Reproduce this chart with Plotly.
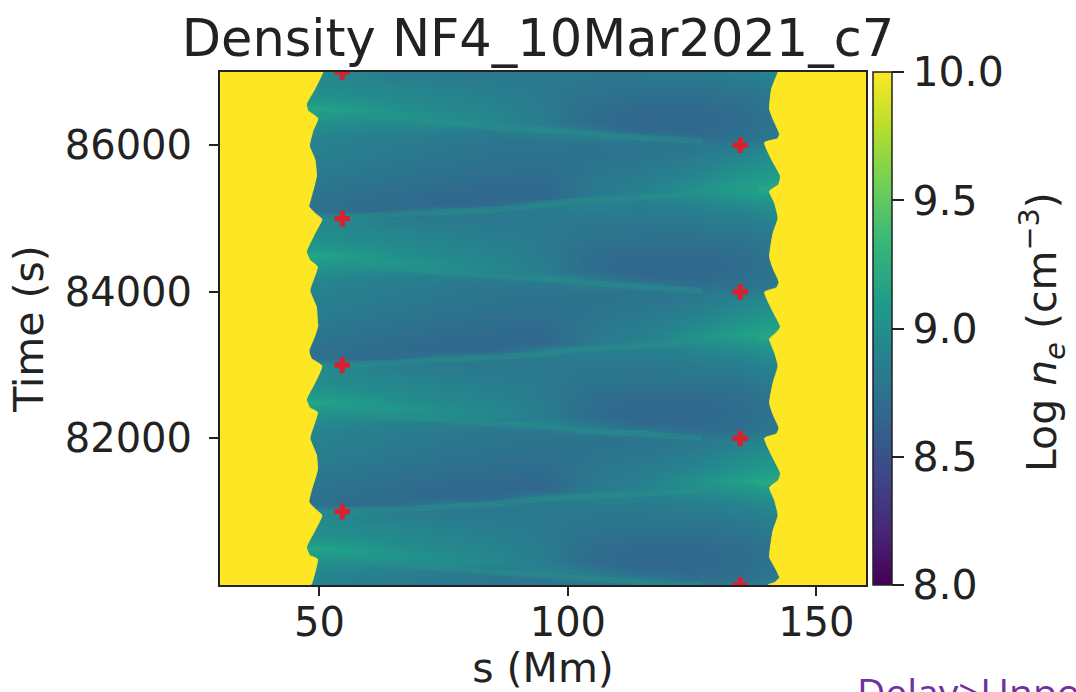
import plotly.graph_objects as go

title = "Density NF4_10Mar2021_c7"
col_s = [45, 55, 65, 75, 85, 95, 105, 115, 125, 135, 145]
row_t = [87000 - 100 * i for i in range(71)]
log_ne = [
 [8.98,8.95,8.84,8.82,8.80,8.80,8.80,8.80,8.82,8.86,8.96],
 [8.96,8.92,8.88,8.84,8.82,8.80,8.79,8.79,8.80,8.82,8.92],
 [8.98,8.95,8.92,8.87,8.84,8.81,8.78,8.77,8.77,8.79,8.88],
 [9.02,8.98,8.94,8.90,8.86,8.82,8.76,8.74,8.74,8.76,8.85],
 [9.08,9.02,8.97,8.92,8.88,8.82,8.73,8.71,8.71,8.74,8.83],
 [9.20,9.12,9.00,8.94,8.90,8.83,8.72,8.68,8.68,8.72,8.82],
 [9.14,9.06,9.06,8.98,8.92,8.84,8.71,8.67,8.67,8.71,8.81],
 [9.02,8.96,8.95,8.98,8.94,8.85,8.70,8.66,8.67,8.71,8.81],
 [8.96,8.92,8.88,8.86,8.84,8.90,8.80,8.68,8.68,8.72,8.82],
 [8.92,8.88,8.85,8.82,8.80,8.80,8.85,8.84,8.72,8.74,8.84],
 [8.90,8.86,8.83,8.80,8.78,8.77,8.76,8.78,8.80,8.82,8.92],
 [8.89,8.85,8.82,8.79,8.77,8.76,8.76,8.78,8.80,8.90,9.00],
 [8.88,8.84,8.81,8.78,8.76,8.75,8.77,8.79,8.84,8.94,9.04],
 [8.86,8.82,8.79,8.76,8.74,8.73,8.78,8.81,8.87,8.98,9.08],
 [8.84,8.80,8.77,8.74,8.72,8.71,8.79,8.83,8.91,9.02,9.12],
 [8.82,8.78,8.75,8.72,8.70,8.69,8.80,8.85,8.95,9.08,9.18],
 [8.80,8.76,8.73,8.70,8.68,8.67,8.81,8.87,9.00,9.15,9.25],
 [8.78,8.74,8.71,8.68,8.67,8.66,8.83,8.90,8.96,9.04,9.14],
 [8.76,8.72,8.70,8.67,8.68,8.86,8.88,8.86,8.90,8.96,9.06],
 [8.76,8.72,8.70,8.84,8.82,8.82,8.84,8.83,8.86,8.90,9.00],
 [8.98,8.95,8.84,8.82,8.80,8.80,8.80,8.80,8.82,8.86,8.96],
 [8.96,8.92,8.88,8.84,8.82,8.80,8.79,8.79,8.80,8.82,8.92],
 [8.98,8.95,8.92,8.87,8.84,8.81,8.78,8.77,8.77,8.79,8.88],
 [9.02,8.98,8.94,8.90,8.86,8.82,8.76,8.74,8.74,8.76,8.85],
 [9.08,9.02,8.97,8.92,8.88,8.82,8.73,8.71,8.71,8.74,8.83],
 [9.20,9.12,9.00,8.94,8.90,8.83,8.72,8.68,8.68,8.72,8.82],
 [9.14,9.06,9.06,8.98,8.92,8.84,8.71,8.67,8.67,8.71,8.81],
 [9.02,8.96,8.95,8.98,8.94,8.85,8.70,8.66,8.67,8.71,8.81],
 [8.96,8.92,8.88,8.86,8.84,8.90,8.80,8.68,8.68,8.72,8.82],
 [8.92,8.88,8.85,8.82,8.80,8.80,8.85,8.84,8.72,8.74,8.84],
 [8.90,8.86,8.83,8.80,8.78,8.77,8.76,8.78,8.80,8.82,8.92],
 [8.89,8.85,8.82,8.79,8.77,8.76,8.76,8.78,8.80,8.90,9.00],
 [8.88,8.84,8.81,8.78,8.76,8.75,8.77,8.79,8.84,8.94,9.04],
 [8.86,8.82,8.79,8.76,8.74,8.73,8.78,8.81,8.87,8.98,9.08],
 [8.84,8.80,8.77,8.74,8.72,8.71,8.79,8.83,8.91,9.02,9.12],
 [8.82,8.78,8.75,8.72,8.70,8.69,8.80,8.85,8.95,9.08,9.18],
 [8.80,8.76,8.73,8.70,8.68,8.67,8.81,8.87,9.00,9.15,9.25],
 [8.78,8.74,8.71,8.68,8.67,8.66,8.83,8.90,8.96,9.04,9.14],
 [8.76,8.72,8.70,8.67,8.68,8.86,8.88,8.86,8.90,8.96,9.06],
 [8.76,8.72,8.70,8.84,8.82,8.82,8.84,8.83,8.86,8.90,9.00],
 [8.98,8.95,8.84,8.82,8.80,8.80,8.80,8.80,8.82,8.86,8.96],
 [8.96,8.92,8.88,8.84,8.82,8.80,8.79,8.79,8.80,8.82,8.92],
 [8.98,8.95,8.92,8.87,8.84,8.81,8.78,8.77,8.77,8.79,8.88],
 [9.02,8.98,8.94,8.90,8.86,8.82,8.76,8.74,8.74,8.76,8.85],
 [9.08,9.02,8.97,8.92,8.88,8.82,8.73,8.71,8.71,8.74,8.83],
 [9.20,9.12,9.00,8.94,8.90,8.83,8.72,8.68,8.68,8.72,8.82],
 [9.14,9.06,9.06,8.98,8.92,8.84,8.71,8.67,8.67,8.71,8.81],
 [9.02,8.96,8.95,8.98,8.94,8.85,8.70,8.66,8.67,8.71,8.81],
 [8.96,8.92,8.88,8.86,8.84,8.90,8.80,8.68,8.68,8.72,8.82],
 [8.92,8.88,8.85,8.82,8.80,8.80,8.85,8.84,8.72,8.74,8.84],
 [8.90,8.86,8.83,8.80,8.78,8.77,8.76,8.78,8.80,8.82,8.92],
 [8.89,8.85,8.82,8.79,8.77,8.76,8.76,8.78,8.80,8.90,9.00],
 [8.88,8.84,8.81,8.78,8.76,8.75,8.77,8.79,8.84,8.94,9.04],
 [8.86,8.82,8.79,8.76,8.74,8.73,8.78,8.81,8.87,8.98,9.08],
 [8.84,8.80,8.77,8.74,8.72,8.71,8.79,8.83,8.91,9.02,9.12],
 [8.82,8.78,8.75,8.72,8.70,8.69,8.80,8.85,8.95,9.08,9.18],
 [8.80,8.76,8.73,8.70,8.68,8.67,8.81,8.87,9.00,9.15,9.25],
 [8.78,8.74,8.71,8.68,8.67,8.66,8.83,8.90,8.96,9.04,9.14],
 [8.76,8.72,8.70,8.67,8.68,8.86,8.88,8.86,8.90,8.96,9.06],
 [8.76,8.72,8.70,8.84,8.82,8.82,8.84,8.83,8.86,8.90,9.00],
 [8.98,8.95,8.84,8.82,8.80,8.80,8.80,8.80,8.82,8.86,8.96],
 [8.96,8.92,8.88,8.84,8.82,8.80,8.79,8.79,8.80,8.82,8.92],
 [8.98,8.95,8.92,8.87,8.84,8.81,8.78,8.77,8.77,8.79,8.88],
 [9.02,8.98,8.94,8.90,8.86,8.82,8.76,8.74,8.74,8.76,8.85],
 [9.08,9.02,8.97,8.92,8.88,8.82,8.73,8.71,8.71,8.74,8.83],
 [9.20,9.12,9.00,8.94,8.90,8.83,8.72,8.68,8.68,8.72,8.82],
 [9.14,9.06,9.06,8.98,8.92,8.84,8.71,8.67,8.67,8.71,8.81],
 [9.02,8.96,8.95,8.98,8.94,8.85,8.70,8.66,8.67,8.71,8.81],
 [8.96,8.92,8.88,8.86,8.84,8.90,8.80,8.68,8.68,8.72,8.82],
 [8.92,8.88,8.85,8.82,8.80,8.80,8.85,8.84,8.72,8.74,8.84],
 [8.90,8.86,8.83,8.80,8.78,8.77,8.76,8.78,8.80,8.82,8.92],
]

left_s = [50.7,49.1,47.4,47.7,49.7,48.7,48.0,49.1,49.4,48.4,47.9,49.1,50.5,49.1,47.4,48.1,49.6,48.1,49.4,49.6,
          49.7,49.1,47.9,48.4,50.5,49.1,47.4,48.1,49.6,48.1,49.4,49.6,48.4,47.9,49.1,50.5,49.1,47.4,48.1,49.6,48.4,48.2]
left_t = [87000,86770,86563,86472,86366,86197,85991,85807,85578,85303,85166,85074,84992,84799,84547,84433,84341,84020,83791,83600,
          83539,83402,83195,83090,82989,82760,82531,82416,82357,82004,81775,81569,81294,81133,81042,80950,80744,80515,80400,80355,80011,80000]
right_s = [142.3,141.0,140.6,141.3,142.6,142.2,139.6,141.0,142.8,142.4,140.6,141.6,142.3,141.3,140.6,141.3,142.5,142.0,139.6,141.0,142.8,
           142.0,140.6,141.6,142.3,141.3,140.6,141.3,142.5,142.0,139.6,141.0,142.8,142.4,140.6,141.6,142.3,141.3,140.6,141.3,142.6,141.6,140.3]
right_t = [87000,86770,86495,86357,86151,86091,86037,85807,85578,85464,85372,85212,85006,84799,84479,84318,84135,84057,83998,83768,83520,
           83447,83356,83172,82989,82760,82485,82325,82141,82064,82004,81775,81523,81431,81330,81156,80950,80744,80377,80286,80103,80034,80000]

ridge_even_s = [49.7,61.8,75.2,85.3,95.3,104.7,114.8,126.9]
ridge_even_t = [
 [86426,86394,86311,86243,86210,86151,86105,86059],
 [84410,84341,84272,84213,84181,84121,84066,84020],
 [82393,82311,82255,82200,82170,82096,82064,82004],
 [80377,80309,80240,80170,80135,80080,80034,80000],
]
ridge_odd_s = [55.1,63.8,75.2,85.3,95.3,100.0,121.5,138.3]
ridge_odd_t = [
 [85028,85051,85083,85120,85189,85235,85313,85418],
 [83000,83035,83081,83117,83150,83209,83287,83379],
 [81019,81028,81065,81110,81179,81202,81262,81340],
]
cross_s = [54.6, 54.6, 54.6, 54.6, 134.7, 134.7, 134.7, 134.7]
cross_t = [87000, 85000, 83000, 81000, 86000, 84000, 82000, 80000]

fig = go.Figure()
fig.add_trace(go.Heatmap(
    x=col_s, y=row_t, z=log_ne, colorscale="Viridis", zmin=8, zmax=10, zsmooth="best",
    colorbar=dict(x=1.0108, xanchor="left", xpad=0, ypad=0, y=0.5, yanchor="middle", thickness=19, thicknessmode="pixels",
                  len=1, lenmode="fraction", outlinecolor="#222", outlinewidth=1.5, ticks="outside", ticklen=12,
                  tickwidth=2, tickcolor="#222", tickvals=[8, 8.5, 9, 9.5, 10],
                  ticktext=["8.0", "8.5", "9.0", "9.5", "10.0"], tickfont=dict(size=41, color="#222"))))
for ts in ridge_even_t:
    fig.add_trace(go.Scatter(x=ridge_even_s, y=ts, mode="lines", line=dict(color="#28938b", width=6), opacity=0.4, showlegend=False, hoverinfo="skip"))
for ts in ridge_odd_t:
    fig.add_trace(go.Scatter(x=ridge_odd_s, y=ts, mode="lines", line=dict(color="#28938b", width=6), opacity=0.4, showlegend=False, hoverinfo="skip"))
fig.add_trace(go.Scatter(x=[20, 20, 51.5] + left_s + [48.0, 20], y=[80000, 88000, 87300] + left_t + [79800, 80000], mode="lines", fill="toself",
                         fillcolor="#fde725", line=dict(color="#fde725", width=1, shape="spline", smoothing=0.45), showlegend=False, hoverinfo="skip"))
fig.add_trace(go.Scatter(x=[170, 170, 142.8] + right_s + [140.0, 170], y=[80000, 88000, 87300] + right_t + [79800, 80000], mode="lines", fill="toself",
                         fillcolor="#fde725", line=dict(color="#fde725", width=1, shape="spline", smoothing=0.45), showlegend=False, hoverinfo="skip"))
fig.add_trace(go.Scatter(x=cross_s, y=cross_t, mode="markers", showlegend=False,
                         marker=dict(symbol="cross", size=13, color="#d9202e", line=dict(width=0))))

fig.update_xaxes(range=[30, 160], tickvals=[50, 100, 150], title=dict(text="s (Mm)", font=dict(size=41, color="#222"), standoff=4),
                 tickfont=dict(size=40, color="#222"), ticks="outside", ticklen=9, tickwidth=2, tickcolor="#222", ticklabelstandoff=-8,
                 showline=True, linecolor="#222", linewidth=2, mirror=True, showgrid=False, zeroline=False)
fig.update_yaxes(range=[80000, 87000], tickvals=[82000, 84000, 86000], tickformat="d", title=dict(text="Time (s)", font=dict(size=41, color="#222"), standoff=8),
                 tickfont=dict(size=40, color="#222"), ticks="outside", ticklen=9, tickwidth=2, tickcolor="#222", ticklabelstandoff=9,
                 showline=True, linecolor="#222", linewidth=2, mirror=True, showgrid=False, zeroline=False)
fig.update_layout(
    width=1076, height=692, paper_bgcolor="white", plot_bgcolor="white",
    font=dict(family="DejaVu Sans", color="#222"),
    margin=dict(l=220, r=210, t=72, b=107, autoexpand=False),
    title=dict(text=title, font=dict(size=51, color="#222"), x=538 / 1076, xanchor="center", y=1 - 38 / 692, yanchor="middle"),
    annotations=[
        dict(text="Log <i>n<sub>e</sub></i> (cm<sup>−3</sup>)", xref="paper", yref="paper", x=(1042 - 220) / 646, y=1 - (332 - 72) / 513,
             xanchor="center", yanchor="middle", textangle=-90, showarrow=False, font=dict(size=41, color="#222")),
        dict(text="Delay>Unpo", xref="paper", yref="paper", x=(855 - 220) / 646, y=-(691 - 585) / 513,
             xanchor="left", yanchor="middle", showarrow=False, font=dict(family="Open Sans", size=39, color="#7030a0")),
    ],
)
fig.write_html("out.html", config={"displayModeBar": False},
               post_script="document.body.style.margin='0';document.body.style.overflow='hidden';")
